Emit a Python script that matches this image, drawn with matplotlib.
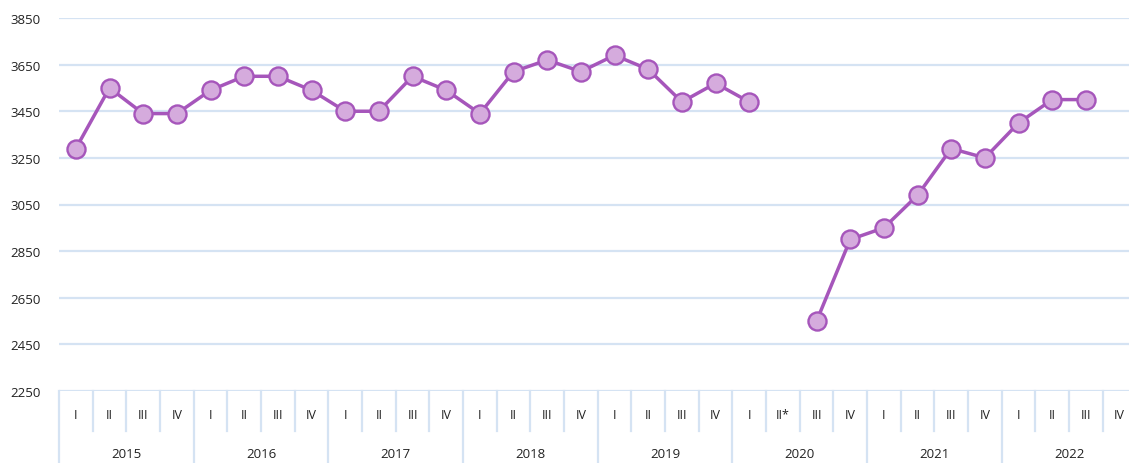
import numpy as np
import matplotlib
matplotlib.use("Agg")
from matplotlib import pyplot as plt
from matplotlib import transforms

years = ["2015", "2016", "2017", "2018", "2019", "2020", "2021", "2022"]
quarters = ["I", "II", "III", "IV"]
# 2020 II has a star in the source
quarter_labels = [q for _ in years for q in quarters]
quarter_labels[21] = "II*"

values = [
    3290, 3550, 3440, 3440,   # 2015
    3540, 3600, 3600, 3540,   # 2016
    3450, 3450, 3600, 3540,   # 2017
    3440, 3620, 3670, 3620,   # 2018
    3690, 3630, 3490, 3570,   # 2019
    3490, np.nan, 2550, 2900,  # 2020
    2950, 3090, 3290, 3250,   # 2021
    3400, 3500, 3500, np.nan,  # 2022
]
y_ticks = [2250, 2450, 2650, 2850, 3050, 3250, 3450, 3650, 3850]

line_color = "#a656bb"
fill_color = "#d5abdd"
grid_color = "#d5e3f3"
text_color = "#222222"

plt.rcParams["font.family"] = ["Open Sans", "DejaVu Sans"]

W, H = 1129, 464
fig = plt.figure(figsize=(W / 100, H / 100), dpi=100)
# plot area in pixels: left 59, top 19, bottom 392, 33.67 px per quarter
ax = fig.add_axes([59 / W, (H - 392) / H, 32 * 33.67 / W, (392 - 19) / H])
ax_h = 392 - 19

x = np.arange(len(values))
ax.plot(x, values, color=line_color, linewidth=2.5, marker="o",
        markersize=13, markerfacecolor=fill_color,
        markeredgecolor=line_color, markeredgewidth=1.7, zorder=3)

ax.set_xlim(-0.5, len(values) - 0.5)
ax.set_ylim(2250, 3850)
ax.set_yticks(y_ticks)
ax.set_yticklabels([str(t) for t in y_ticks])
ax.set_xticks([])
ax.tick_params(axis="y", length=0, pad=13, labelsize=9.5, labelcolor=text_color)
for s in ax.spines.values():
    s.set_visible(False)
for t in y_ticks:
    ax.axhline(t, color=grid_color, linewidth=1.6, zorder=1)

# category table under the axis
trans = transforms.blended_transform_factory(ax.transData, ax.transAxes)
q_bottom = -40 / ax_h
y_bottom = -72 / ax_h
for k in range(len(values) + 1):
    xb = k - 0.5
    low = y_bottom if k % 4 == 0 else q_bottom
    ax.plot([xb, xb], [0, low], transform=trans, color=grid_color,
            linewidth=1.6, clip_on=False)
for i, lab in enumerate(quarter_labels):
    ax.text(i, -24 / ax_h, lab, transform=trans, ha="center", va="center",
            fontsize=9, color=text_color)
for j, yr in enumerate(years):
    ax.text(j * 4 + 1.5, -63 / ax_h, yr, transform=trans, ha="center",
            va="center", fontsize=9.5, color=text_color)

fig.savefig("out.png", dpi=100)
